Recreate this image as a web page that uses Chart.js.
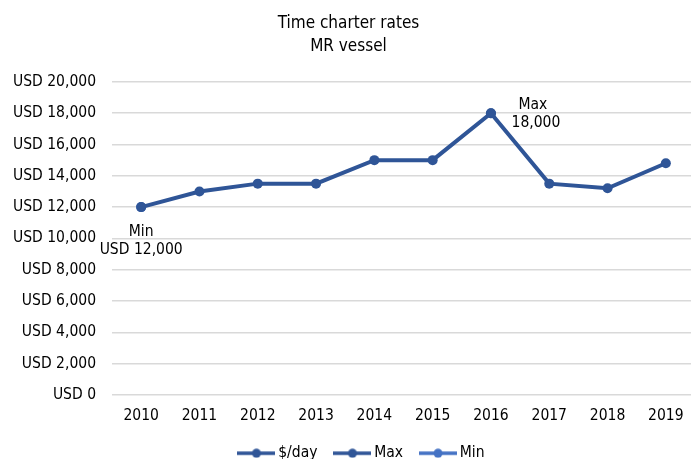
<!DOCTYPE html>
<html><head><meta charset="utf-8">
<script src="https://cdn.jsdelivr.net/npm/chart.js@4.4.0/dist/chart.umd.min.js"></script>
<style>html,body{margin:0;padding:0;background:#fff;overflow:hidden;}#wrap{width:691px;height:459px;overflow:hidden;position:relative;}#c{position:absolute;left:-4px;top:0;}</style>
</head><body><div id="wrap"><canvas id="c" width="704" height="459"></canvas></div>
<script>
const years = ['2010','2011','2012','2013','2014','2015','2016','2017','2018','2019'];
const dayRates = [12000,13000,13500,13500,15000,15000,18000,13500,13200,14800];
const maxValues = [null,null,null,null,null,null,18000,null,null,null];
const minValues = [12000,null,null,null,null,null,null,null,null,null];
const maxLabel = ['Max','18,000'];
const minLabel = ['Min','USD 12,000'];

const FONT = "'DejaVu Sans Condensed', 'DejaVu Sans', sans-serif";
const C1 = '#2F5597', C2 = '#2F5597', C3 = '#4472C4';

function legendIcon(color){
  const cv = document.createElement('canvas');
  cv.width = 38; cv.height = 10;
  const g = cv.getContext('2d');
  g.strokeStyle = color; g.lineWidth = 3.5;
  g.beginPath(); g.moveTo(0,5); g.lineTo(38,5); g.stroke();
  g.fillStyle = color; g.beginPath(); g.arc(19,5,4.5,0,Math.PI*2); g.fill();
  return cv;
}

const labelPlugin = {
  id:'pointLabels',
  afterLayout(chart){
    if (chart.legend) { chart.legend.left += 30; }
  },
  afterDatasetsDraw(chart){
    const ctx = chart.ctx;
    ctx.save();
    ctx.font = "15.5px " + FONT;
    ctx.fillStyle = '#000';
    ctx.textAlign = 'center';
    ctx.textBaseline = 'middle';
    const mMeta = chart.getDatasetMeta(1);
    const mi = maxValues.findIndex(v=>v!==null);
    const mp = mMeta.data[mi];
    ctx.fillText(maxLabel[0], mp.x+42, mp.y-8);
    ctx.fillText(maxLabel[1], mp.x+45, mp.y+10);
    const nMeta = chart.getDatasetMeta(2);
    const ni = minValues.findIndex(v=>v!==null);
    const np = nMeta.data[ni];
    ctx.fillText(minLabel[0], np.x, np.y+25);
    ctx.fillText(minLabel[1], np.x, np.y+43);
    ctx.restore();
  }
};

new Chart(document.getElementById('c'), {
  type:'line',
  data:{
    labels: years,
    datasets:[
      {label:'$/day', data: dayRates, borderColor:C1, backgroundColor:C1, borderWidth:4, pointRadius:5, pointBorderWidth:0, pointHoverRadius:5, tension:0},
      {label:'Max', data: maxValues, borderColor:C2, backgroundColor:C2, borderWidth:4, pointRadius:5, pointBorderWidth:0, showLine:false},
      {label:'Min', data: minValues, borderColor:C3, backgroundColor:C3, borderWidth:4, pointRadius:5, pointBorderWidth:0, showLine:false}
    ]
  },
  options:{
    responsive:false,
    animation:false,
    layout:{padding:{left:1,right:0,top:0,bottom:-12}},
    plugins:{
      title:{display:true, text:['Time charter rates','MR vessel'], color:'#000', font:{family:FONT, size:17, weight:'normal', lineHeight:1.35}, padding:{top:12,bottom:24}},
      legend:{position:'bottom', labels:{
        color:'#000', font:{family:FONT, size:15.5}, usePointStyle:true, pointStyleWidth:28, boxHeight:10, padding:21,
        generateLabels(chart){
          return chart.data.datasets.map((d,i)=>({text:d.label, pointStyle:legendIcon(d.borderColor), fillStyle:d.borderColor, strokeStyle:d.borderColor, lineWidth:0, datasetIndex:i, hidden:false, fontColor:'#000'}));
        }
      }},
      tooltip:{enabled:false}
    },
    scales:{
      x:{offset:true, grid:{display:false, drawTicks:false}, border:{display:false}, ticks:{color:'#000', font:{family:FONT, size:15.5}, padding:12},
        afterFit(scale){ scale.height -= 13; }},
      y:{min:0, max:20000, grid:{color:'#D9D9D9', lineWidth:1.5, drawTicks:false}, border:{display:false},
        ticks:{stepSize:2000, color:'#000', font:{family:FONT, size:15.5}, padding:16,
          callback:v=>'USD '+v.toLocaleString('en-US')}}
    }
  },
  plugins:[labelPlugin]
});
</script></body></html>
